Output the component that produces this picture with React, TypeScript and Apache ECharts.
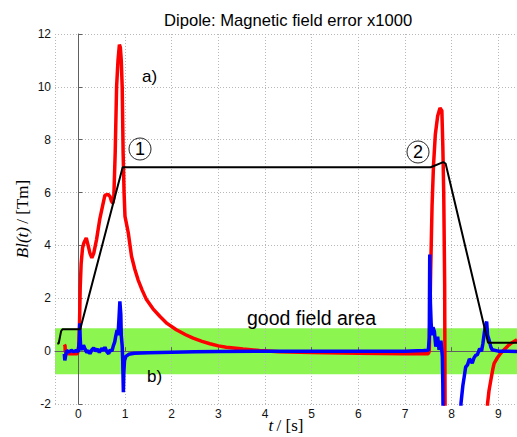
import React, { useEffect, useRef } from "react";
import * as echarts from "echarts";

const titleText = "Dipole: Magnetic field error x1000";
const xTicks = [0, 1, 2, 3, 4, 5, 6, 7, 8, 9];
const yTicks = [-2, 0, 2, 4, 6, 8, 10, 12];
const goodFieldBand = [-0.87, 0.87];

const blackCurrent: [number, number][] = [
  [-0.45, 0.28], [-0.42, 0.3], [-0.37, 0.75], [-0.34, 0.83], [0.04, 0.83],
  [0.95, 6.96], [7.55, 6.96], [7.82, 7.15], [7.87, 7.1], [8.78, 0.32], [9.4, 0.32],
];

const redError: [number, number][] = [
  [-0.3, 0.25], [-0.285, 0.2], [-0.28, 0.0], [-0.26, -0.08], [-0.2, -0.1], [-0.1, -0.1],
  [-0.02, -0.1], [0.01, 0.2], [0.025, 1.0], [0.04, 2.4], [0.06, 3.3], [0.09, 3.9],
  [0.12, 4.1], [0.17, 4.28], [0.21, 4.0], [0.25, 3.7], [0.29, 3.53], [0.33, 3.7],
  [0.39, 4.22], [0.46, 5.0], [0.52, 5.5], [0.57, 5.9], [0.64, 5.93], [0.68, 5.85],
  [0.71, 5.67], [0.74, 5.6], [0.76, 5.8], [0.79, 7.5], [0.82, 10.0], [0.85, 11.0],
  [0.88, 11.6], [0.9, 11.5], [0.92, 11.0], [0.94, 10.0], [0.96, 7.5], [0.98, 6.0],
  [1.0, 5.1], [1.07, 4.48], [1.14, 3.59], [1.21, 3.1], [1.28, 2.7], [1.37, 2.3],
  [1.46, 1.95], [1.6, 1.6], [1.75, 1.31], [1.9, 1.05], [2.1, 0.81], [2.3, 0.62],
  [2.46, 0.49], [2.65, 0.37], [2.82, 0.28], [3.0, 0.2], [3.17, 0.15], [3.53, 0.08],
  [3.88, 0.02], [4.3, -0.02], [5.0, -0.05], [6.0, -0.08], [7.0, -0.1], [7.5, -0.1],
  [7.52, 0.0], [7.55, 3.0], [7.58, 5.5], [7.61, 7.0], [7.65, 8.2], [7.7, 8.9],
  [7.75, 9.2], [7.79, 9.1], [7.81, 7.8], [7.83, 6.0], [7.85, 2.5], [7.86, -3],
  [8.3, -7], [8.74, -3], [8.77, -1.97], [8.8, -1.5], [8.84, -1.09], [8.88, -0.7],
  [8.91, -0.46], [8.98, -0.25], [9.05, -0.08], [9.15, 0.1], [9.23, 0.24], [9.3, 0.33],
  [9.4, 0.43],
];

const blueError: [number, number][] = [
  [-0.3, -0.1], [-0.29, -0.35], [-0.27, -0.15], [-0.25, 0.02], [-0.2, -0.03], [-0.15, 0.03],
  [-0.1, -0.02], [-0.05, 0.02], [0.0, -0.02], [0.02, 0.4], [0.03, 1.05], [0.04, 0.5],
  [0.05, 0.15], [0.08, 0.05], [0.11, 0.22], [0.14, 0.1], [0.18, -0.05], [0.22, 0.02],
  [0.25, -0.1], [0.29, 0.05], [0.33, 0.12], [0.37, 0.0], [0.41, 0.08], [0.45, -0.05],
  [0.5, 0.1], [0.54, 0.02], [0.57, 0.15], [0.61, -0.02], [0.65, -0.1], [0.68, 0.05],
  [0.72, 0.0], [0.75, 0.2], [0.78, 0.35], [0.8, 0.55], [0.83, 0.8], [0.85, 0.6],
  [0.87, 1.2], [0.89, 1.88], [0.91, 1.4], [0.92, 0.6], [0.94, 0.2], [0.95, -0.3],
  [0.965, -1.55], [0.975, -0.8], [0.99, -0.35], [1.02, -0.2], [1.08, -0.12], [1.2, -0.08],
  [1.5, -0.06], [2.0, -0.04], [2.5, -0.02], [3.0, -0.01], [4.0, 0.0], [5.0, 0.0],
  [6.0, 0.0], [7.0, 0.0], [7.4, 0.02], [7.5, 0.03], [7.52, 0.5], [7.53, 3.66],
  [7.545, 1.8], [7.56, 1.07], [7.58, 0.6], [7.6, 0.9], [7.63, 0.74], [7.66, 0.17],
  [7.7, 0.55], [7.73, 0.05], [7.77, 0.4], [7.8, -0.2], [7.81, -1.2], [7.82, -3],
  [8.0, -6], [8.18, -3], [8.2, -1.97], [8.24, -1.3], [8.27, -0.96], [8.3, -0.6],
  [8.34, -0.52], [8.38, -0.3], [8.41, -0.35], [8.44, -0.46], [8.48, -0.25], [8.52, -0.15],
  [8.55, -0.14], [8.6, 0.1], [8.64, 0.0], [8.67, 0.3], [8.7, 0.7], [8.73, 1.0],
  [8.75, 1.12], [8.77, 0.6], [8.8, 0.43], [8.84, 0.15], [8.87, 0.05], [9.0, 0.0],
  [9.4, -0.01],
];

const SANS = "'Liberation Sans', Arial, sans-serif";
const SERIF = "'Liberation Serif', 'Times New Roman', serif";

export default function App() {
  const ref = useRef<HTMLDivElement>(null);
  useEffect(() => {
    if (!ref.current) return;
    const chart = echarts.init(ref.current, null, { renderer: "svg" });
    const gridLine = { show: true, lineStyle: { color: "#b8b8b8", type: [1, 2] as any, width: 1 } };
    const nameRich = {
      i: { fontFamily: SERIF, fontStyle: "italic", fontSize: 17, color: "#000" },
      n: { fontFamily: SERIF, fontSize: 17, color: "#000" },
    };
    chart.setOption({
      animation: false,
      backgroundColor: "#ffffff",
      grid: { left: 55, top: 34, right: 0, bottom: 33, containLabel: false, outerBoundsMode: "none" },
      xAxis: {
        type: "value",
        min: -0.5,
        max: 9.4,
        splitNumber: 10,
        z: 2,
        name: "{i|t} {n|/ [s]}",
        nameLocation: "middle",
        nameGap: 13,
        nameMoveOverlap: false,
        nameTextStyle: { color: "#000", rich: nameRich },
        axisLine: { show: true, lineStyle: { color: "#606060", width: 1 } },
        axisTick: { show: true, inside: true, length: 4, lineStyle: { color: "#606060" } },
        axisLabel: {
          margin: 4,
          fontFamily: SANS,
          fontSize: 12,
          color: "#111",
          formatter: (v: number) => (xTicks.indexOf(v) >= 0 ? String(v) : ""),
          showMinLabel: false,
          showMaxLabel: false,
        },
        splitLine: gridLine,
      },
      yAxis: {
        type: "value",
        min: -2,
        max: 12,
        interval: 2,
        z: 2,
        name: "{i|Bl(t)} {n|/ [Tm]}",
        nameLocation: "middle",
        nameRotate: 90,
        nameGap: 24,
        nameMoveOverlap: false,
        nameTextStyle: { color: "#000", rich: nameRich },
        axisLine: { show: true, lineStyle: { color: "#606060", width: 1 } },
        axisTick: { show: true, inside: true, length: 4, lineStyle: { color: "#606060" } },
        axisLabel: {
          margin: 4,
          fontFamily: SANS,
          fontSize: 12,
          color: "#111",
          formatter: (v: number) => (yTicks.indexOf(v) >= 0 ? String(v) : ""),
        },
        splitLine: gridLine,
      },
      series: [
        {
          type: "line",
          name: "band",
          data: [],
          z: 1,
          markArea: {
            silent: true,
            z: 1,
            itemStyle: { color: "#8cf550", opacity: 1 },
            data: [[{ yAxis: goodFieldBand[0] }, { yAxis: goodFieldBand[1] }]],
          },
        },
        {
          type: "line",
          name: "a",
          data: redError,
          z: 3,
          showSymbol: false,
          symbol: "none",
          lineStyle: { color: "#ff0000", width: 3.5 },
          clip: true,
        },
        {
          type: "line",
          name: "b",
          data: blueError,
          z: 4,
          showSymbol: false,
          symbol: "none",
          lineStyle: { color: "#0000ff", width: 3.5 },
          clip: true,
        },
        {
          type: "line",
          name: "current",
          data: blackCurrent,
          z: 5,
          showSymbol: false,
          symbol: "none",
          lineStyle: { color: "#000000", width: 2 },
          clip: true,
        },
      ],
      graphic: [
        { type: "text", x: 164, y: 20, z: 10, style: { text: titleText, font: `16.6px ${SANS}`, fill: "#000", align: "left", verticalAlign: "middle" } },
        { type: "text", left: 142, top: 68, z: 10, style: { text: "a)", font: `17px ${SANS}`, fill: "#000" } },
        { type: "text", left: 147, top: 368, z: 10, style: { text: "b)", font: `17px ${SANS}`, fill: "#000" } },
        { type: "text", left: 247, top: 308, z: 10, style: { text: "good field area", font: `19.5px ${SANS}`, fill: "#000" } },
        { type: "circle", shape: { cx: 140, cy: 149, r: 11 }, z: 10, style: { fill: "none", stroke: "#222", lineWidth: 1 } },
        { type: "text", x: 140, y: 149, z: 10, style: { text: "1", font: `18px ${SANS}`, fill: "#000", align: "center", verticalAlign: "middle" } },
        { type: "circle", shape: { cx: 418, cy: 152, r: 11 }, z: 10, style: { fill: "none", stroke: "#222", lineWidth: 1 } },
        { type: "text", x: 418, y: 152, z: 10, style: { text: "2", font: `18px ${SANS}`, fill: "#000", align: "center", verticalAlign: "middle" } },
      ],
    });
    return () => chart.dispose();
  }, []);
  return (
    <div
      ref={ref}
      style={{ position: "absolute", left: 0, top: 0, width: 517, height: 437, background: "#fff" }}
    />
  );
}
